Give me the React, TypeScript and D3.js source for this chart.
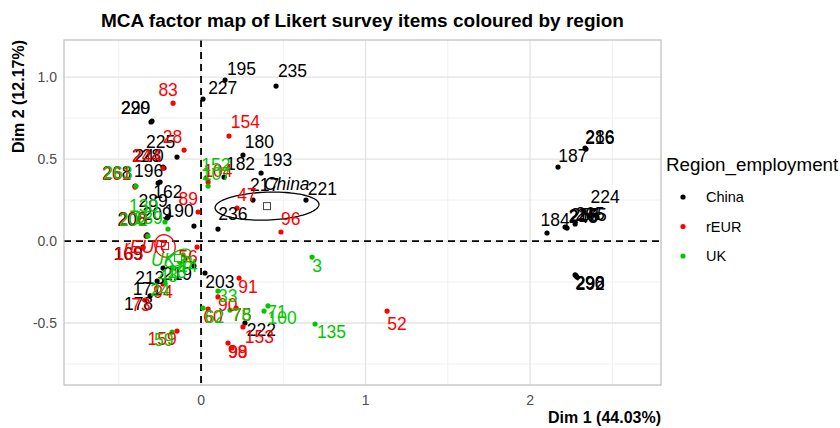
import React from "react";
import * as d3 from "d3";

// chart text
const chartTitle = "MCA factor map of Likert survey items coloured by region";
const xTitle = "Dim 1 (44.03%)";
const yTitle = "Dim 2 (12.17%)";
const legendTitle = "Region_employment";

const regions = ["China", "rEUR", "UK"];
const regionColors = ["#000000", "#FF0000", "#00C800"];

const xMajor = [0, 1, 2];
const xMinor = [-0.5, 0.5, 1.5, 2.5];
const yMajor = [-0.5, 0, 0.5, 1.0];
const yMinor = [-0.75, -0.25, 0.25, 0.75];

// [id, dim1, dim2, label dx, label dy] (label offsets in data units, as repelled)
type Ind = [string, number, number, number, number];

const chinaPoints: Ind[] = [
  ["227", 0.012, 0.866, 0.12, 0.07],
  ["195", 0.146, 0.982, 0.1, 0.07],
  ["235", 0.456, 0.945, 0.1, 0.09],
  ["180", 0.255, 0.524, 0.1, 0.08],
  ["182", 0.14, 0.39, 0.1, 0.08],
  ["193", 0.365, 0.415, 0.1, 0.08],
  ["217", 0.316, 0.25, 0.07, 0.09],
  ["221", 0.638, 0.25, 0.1, 0.07],
  ["236", 0.103, 0.073, 0.09, 0.09],
  ["190", -0.043, 0.091, -0.09, 0.09],
  ["299", -0.298, 0.732, -0.1, 0.08],
  ["220", -0.304, 0.726, -0.095, 0.085],
  ["225", -0.146, 0.512, -0.1, 0.09],
  ["228", -0.231, 0.451, -0.1, 0.07],
  ["240", -0.225, 0.445, -0.09, 0.075],
  ["268", -0.401, 0.335, -0.11, 0.08],
  ["196", -0.249, 0.36, -0.07, 0.07],
  ["162", -0.261, 0.354, 0.06, -0.055],
  ["289", -0.201, 0.146, -0.09, 0.1],
  ["209", -0.207, 0.14, -0.06, 0.025],
  ["206", -0.328, 0.037, -0.09, 0.1],
  ["200", -0.334, 0.03, -0.085, 0.1],
  ["169", -0.353, -0.037, -0.09, -0.04],
  ["213", -0.231, -0.165, -0.08, -0.06],
  ["171", -0.267, -0.244, -0.06, -0.05],
  ["178", -0.31, -0.335, -0.07, -0.05],
  ["219", -0.043, -0.152, -0.1, -0.05],
  ["203", 0.024, -0.195, 0.09, -0.055],
  ["222", 0.267, -0.5, 0.1, -0.045],
  ["286", 2.334, 0.567, 0.09, 0.07],
  ["216", 2.34, 0.561, 0.085, 0.065],
  ["187", 2.17, 0.451, 0.09, 0.07],
  ["224", 2.401, 0.159, 0.055, 0.11],
  ["184", 2.103, 0.049, 0.05, 0.08],
  ["215", 2.213, 0.085, 0.11, 0.07],
  ["245", 2.225, 0.079, 0.1, 0.07],
  ["255", 2.274, 0.104, 0.06, 0.055],
  ["265", 2.365, 0.152, 0.0, 0.01],
  ["275", 2.407, 0.146, -0.03, 0.01],
  ["290", 2.274, -0.207, 0.09, -0.05],
  ["292", 2.286, -0.22, 0.08, -0.04],
  ["298", 2.28, -0.213, 0.085, -0.045],
];

const reurPoints: Ind[] = [
  ["83", -0.17, 0.841, -0.03, 0.08],
  ["28", -0.103, 0.555, -0.07, 0.08],
  ["244", -0.231, 0.445, -0.1, 0.075],
  ["261", -0.401, 0.329, -0.11, 0.08],
  ["89", -0.018, 0.177, -0.06, 0.08],
  ["208", -0.328, 0.03, -0.085, 0.105],
  ["165", -0.353, -0.043, -0.085, -0.035],
  ["56", -0.024, -0.037, -0.055, -0.06],
  ["94", -0.231, -0.262, 0.0, -0.05],
  ["73", -0.34, -0.36, -0.025, -0.03],
  ["159", -0.146, -0.549, -0.09, -0.05],
  ["91", 0.231, -0.226, 0.055, -0.055],
  ["90", 0.103, -0.341, 0.06, -0.05],
  ["60", 0.043, -0.415, 0.03, -0.05],
  ["75", 0.213, -0.409, 0.035, -0.045],
  ["153", 0.255, -0.524, 0.1, -0.06],
  ["99", 0.164, -0.622, 0.06, -0.055],
  ["98", 0.188, -0.652, 0.035, -0.025],
  ["47", 0.219, 0.201, 0.06, 0.08],
  ["96", 0.486, 0.055, 0.06, 0.08],
  ["154", 0.17, 0.64, 0.1, 0.085],
  ["104", 0.043, 0.36, 0.06, 0.065],
  ["52", 1.131, -0.427, 0.06, -0.08],
];

const ukPoints: Ind[] = [
  ["152", 0.03, 0.384, 0.06, 0.08],
  ["107", 0.043, 0.335, 0.05, 0.075],
  ["3", 0.675, -0.098, 0.03, -0.055],
  ["135", 0.693, -0.506, 0.1, -0.05],
  ["71", 0.407, -0.396, 0.055, -0.035],
  ["100", 0.383, -0.427, 0.11, -0.045],
  ["33", 0.103, -0.305, 0.06, -0.03],
  ["62", 0.012, -0.409, 0.07, -0.055],
  ["78", 0.176, -0.421, 0.07, -0.03],
  ["59", -0.176, -0.555, -0.05, -0.05],
  ["130", -0.219, 0.116, -0.13, 0.1],
  ["139", -0.201, 0.073, -0.12, 0.07],
  ["263", -0.395, 0.335, -0.11, 0.08],
  ["202", -0.322, 0.03, -0.09, 0.1],
  ["24", -0.219, -0.25, -0.03, -0.05],
  ["38", -0.109, -0.085, 0.0, -0.05],
  ["18", -0.128, -0.128, -0.02, -0.06],
  ["48", -0.176, -0.165, -0.025, -0.05],
  ["14", -0.091, -0.104, 0.01, -0.05],
];

// group means and confidence ellipses: [cx, cy, rx, ry, angle deg]
const groupMeans = [
  [0.401, 0.213],
  [-0.219, -0.03],
  [-0.14, -0.104],
];
const groupEllipses = [
  [0.401, 0.213, 0.316, 0.085, 2],
  [-0.219, -0.03, 0.06, 0.07, 25],
  [-0.14, -0.104, 0.085, 0.04, 30],
];
const groupLabelNudge = [
  [0.12, 0.135],
  [-0.12, -0.007],
  [-0.09, -0.012],
];

const W = 840;
const H = 428;
const M = { left: 64, right: 661, top: 40, bottom: 385 };
const FONT = "'Liberation Sans', Arial, Helvetica, sans-serif";

export default function App() {
  const x = d3.scaleLinear().domain([-0.833, 2.796]).range([M.left, M.right]);
  const y = d3.scaleLinear().domain([-0.878, 1.226]).range([M.bottom, M.top]);

  const groups = [chinaPoints, reurPoints, ukPoints];

  const ellipsePath = (e: number[]) => {
    const [cx, cy, rx, ry, ang] = e;
    const a = (ang * Math.PI) / 180;
    const pts = d3.range(0, 101).map((i) => {
      const t = (i / 100) * 2 * Math.PI;
      const ex = rx * Math.cos(t);
      const ey = ry * Math.sin(t);
      return [cx + ex * Math.cos(a) - ey * Math.sin(a), cy + ex * Math.sin(a) + ey * Math.cos(a)] as [number, number];
    });
    return d3.line().x((d) => x(d[0])).y((d) => y(d[1]))(pts) || "";
  };

  return (
    <svg width={W} height={H} style={{ position: "absolute", left: 0, top: 0, background: "#fff" }} fontFamily={FONT}>
      <rect x={0} y={0} width={W} height={H} fill="#fff" />
      <text x={(M.left + M.right) / 2} y={27} textAnchor="middle" fontSize={19} fontWeight="bold">
        {chartTitle}
      </text>

      <defs>
        <clipPath id="panel">
          <rect x={M.left} y={M.top} width={M.right - M.left} height={M.bottom - M.top} />
        </clipPath>
      </defs>

      {/* grid */}
      {xMinor.map((v) => (
        <line key={"xm" + v} x1={x(v)} x2={x(v)} y1={M.top} y2={M.bottom} stroke="#f0f0f0" strokeWidth={1} />
      ))}
      {yMinor.map((v) => (
        <line key={"ym" + v} y1={y(v)} y2={y(v)} x1={M.left} x2={M.right} stroke="#f0f0f0" strokeWidth={1} />
      ))}
      {xMajor.map((v) => (
        <line key={"xM" + v} x1={x(v)} x2={x(v)} y1={M.top} y2={M.bottom} stroke="#e3e3e3" strokeWidth={1.3} />
      ))}
      {yMajor.map((v) => (
        <line key={"yM" + v} y1={y(v)} y2={y(v)} x1={M.left} x2={M.right} stroke="#e3e3e3" strokeWidth={1.3} />
      ))}

      {/* zero lines */}
      <line x1={x(0)} x2={x(0)} y1={M.top} y2={M.bottom} stroke="#000" strokeWidth={1.8} strokeDasharray="7,5" />
      <line y1={y(0)} y2={y(0)} x1={M.left} x2={M.right} stroke="#000" strokeWidth={1.8} strokeDasharray="7,5" />

      <g clipPath="url(#panel)">
        {/* ellipses */}
        {groupEllipses.map((e, i) => (
          <path key={"el" + i} d={ellipsePath(e)} fill="none" stroke={regionColors[i]} strokeWidth={1.3} />
        ))}

        {/* points */}
        {groups.map((g, gi) =>
          g.map((p) => <circle key={gi + "p" + p[0]} cx={x(p[1])} cy={y(p[2])} r={2.6} fill={regionColors[gi]} />)
        )}
        {/* labels */}
        {groups.map((g, gi) =>
          g.map((p) => (
            <text
              key={gi + "t" + p[0]}
              x={x(p[1] + p[3])}
              y={y(p[2] + p[4])}
              textAnchor="middle"
              dominantBaseline="central"
              fontSize={17.5}
              fill={regionColors[gi]}
            >
              {p[0]}
            </text>
          ))
        )}

        {/* group means */}
        {groupMeans.map((m, i) => (
          <g key={"gm" + i}>
            <rect x={x(m[0]) - 3.5} y={y(m[1]) - 3.5} width={7} height={7} fill="#fff" stroke={i === 0 ? "#444" : regionColors[i]} strokeWidth={1} />
            <text
              x={x(m[0] + groupLabelNudge[i][0])}
              y={y(m[1] + groupLabelNudge[i][1])}
              textAnchor="middle"
              dominantBaseline="central"
              fontSize={17.5}
              fontStyle="italic"
              fill={regionColors[i]}
            >
              {regions[i]}
            </text>
          </g>
        ))}
      </g>

      {/* panel border */}
      <rect x={M.left} y={M.top} width={M.right - M.left} height={M.bottom - M.top} fill="none" stroke="#bdbdbd" strokeWidth={1.2} />

      {/* axes */}
      {xMajor.map((v) => (
        <text key={"xt" + v} x={x(v)} y={405} textAnchor="middle" fontSize={14} fill="#4d4d4d">
          {d3.format("d")(v)}
        </text>
      ))}
      {yMajor.map((v) => (
        <text key={"yt" + v} x={57} y={y(v)} textAnchor="end" dominantBaseline="central" fontSize={14} fill="#4d4d4d">
          {d3.format(".1f")(v).replace("−", "-")}
        </text>
      ))}
      <text x={M.right} y={423} textAnchor="end" fontSize={16} fontWeight="bold">
        {xTitle}
      </text>
      <text transform={`translate(24,${M.top}) rotate(-90)`} textAnchor="end" fontSize={16} fontWeight="bold">
        {yTitle}
      </text>

      {/* legend */}
      <text x={666} y={171} fontSize={18.8}>
        {legendTitle}
      </text>
      {regions.map((r, i) => (
        <g key={"lg" + r} transform={`translate(0,${197 + i * 29.5})`}>
          <circle cx={683} cy={0} r={2.6} fill={regionColors[i]} />
          <text x={706} y={0} dominantBaseline="central" fontSize={14.5}>
            {r}
          </text>
        </g>
      ))}
    </svg>
  );
}
